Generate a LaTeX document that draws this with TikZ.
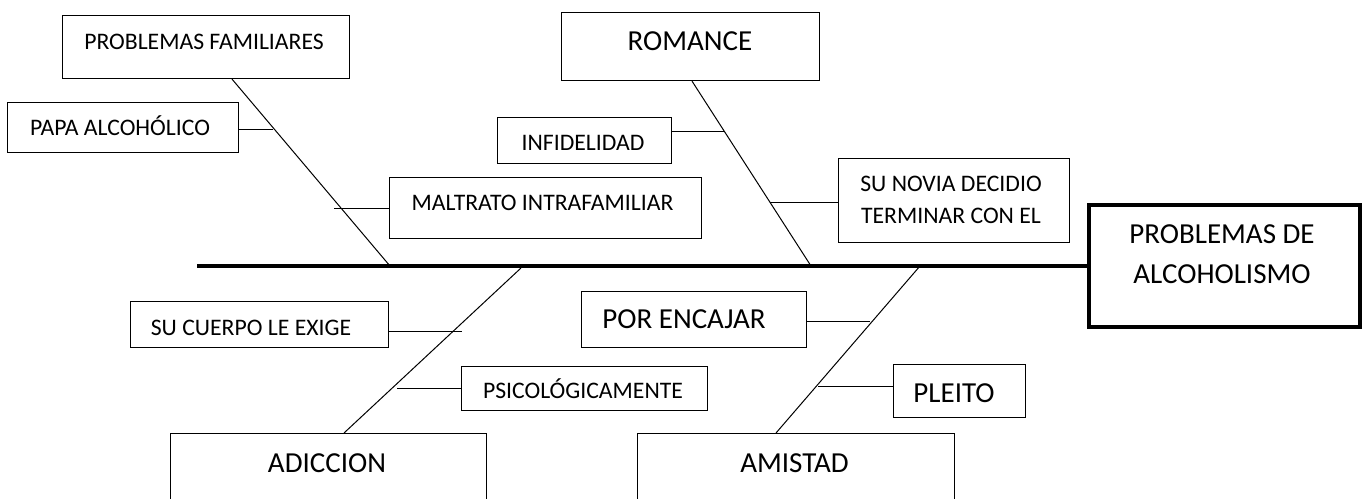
\documentclass[tikz,border=0pt]{standalone}
\usepackage{fontspec}
\setmainfont{Carlito}
\usetikzlibrary{calc}
\begin{document}
\begin{tikzpicture}[x=1pt,y=-1pt,
  box/.style={draw, line width=1.1pt, inner sep=0pt, anchor=north west},
  sm/.style={font=\fontsize{23.7}{31.5}\selectfont, inner sep=0pt},
  lg/.style={font=\fontsize{29}{40}\selectfont, inner sep=0pt},
  bone/.style={line width=1pt},
  spinel/.style={line width=4pt}]
\useasboundingbox (0,0) rectangle (1365,498);
\fill[white] (0,0) rectangle (1365,498);
\clip (0,0) rectangle (1365,498);

% boxes
\node[box, minimum width=287pt, minimum height=63pt] (pf) at (62,15) {};
\node[box, minimum width=231pt, minimum height=50pt] (papa) at (7,102) {};
\node[box, minimum width=312pt, minimum height=61pt] (malt) at (389,177) {};
\node[box, minimum width=258pt, minimum height=68pt] (rom) at (561,12) {};
\node[box, minimum width=174pt, minimum height=46pt] (inf) at (497,117) {};
\node[box, minimum width=231pt, minimum height=84pt] (nov) at (838,158) {};
\node[box, line width=3.5pt, minimum width=271pt, minimum height=122pt] (alc) at (1087,203) {};
\node[box, minimum width=258pt, minimum height=46pt] (cuer) at (130,301) {};
\node[box, minimum width=246pt, minimum height=44pt] (psi) at (461,366) {};
\node[box, minimum width=225pt, minimum height=56pt] (enc) at (581,291) {};
\node[box, minimum width=132pt, minimum height=53pt] (ple) at (893,364) {};
\node[box, minimum width=316pt, minimum height=100pt] (adi) at (170,433) {};
\node[box, minimum width=317pt, minimum height=100pt] (ami) at (637,433) {};

% texts
\node[sm, anchor=base] (pft) at (204,49.2) {PROBLEMAS FAMILIARES};
\node[sm, anchor=base] (papat) at (120,135.5) {PAPA ALCOHÓLICO};
\node[sm, anchor=base] (maltt) at (542.5,210) {MALTRATO INTRAFAMILIAR};
\node[lg, anchor=base] (romt) at (690,50.2) {ROMANCE};
\node[sm, anchor=base] (inft) at (583,150.5) {INFIDELIDAD};
\node[sm, align=center] (novt) at (951,199.8) {SU NOVIA DECIDIO\\TERMINAR CON EL};
\node[lg, align=center] (alct) at (1222,253.7) {PROBLEMAS DE\\ALCOHOLISMO};
\node[sm, anchor=base] (cuert) at (251,335.5) {SU CUERPO LE EXIGE};
\node[sm, anchor=base] (psit) at (583,398.5) {PSICOLÓGICAMENTE};
\node[lg, anchor=base] (enct) at (684,328.9) {POR ENCAJAR};
\node[lg, anchor=base] (plet) at (954,402.2) {PLEITO};
\node[lg, anchor=base] (adit) at (327,472.2) {ADICCION};
\node[lg, anchor=base] (amit) at (794.5,472.2) {AMISTAD};

% spine
\coordinate (sp0) at (197,266);
\draw[spinel] (sp0) -- (sp0 -| alc.west);

% points on spine and boxes
\coordinate (s1) at (390,266);
\coordinate (s2) at (811,266);
\coordinate (s3) at (521,268);
\coordinate (s4) at (920,266);
\coordinate (pfb) at ($(pf.south west)+(170,0)$);
\coordinate (rmb) at ($(rom.south west)+(131,0)$);
\coordinate (adt) at ($(adi.north west)+(174,0)$);
\coordinate (amt) at ($(ami.north west)+(139,0)$);

% bones
\draw[bone] (pfb) -- (s1);
\draw[bone] (rmb) -- (s2);
\draw[bone] (adt) -- (s3);
\draw[bone] (amt) -- (s4);

% stubs
\draw[bone] ([yshift=-2pt]papa.east) -- ++(34,0);
\draw[bone] (malt.west) -- ++(-55,0);
\draw[bone] ([yshift=9pt]inf.east) -- ++(52,0);
\draw[bone] ([yshift=-2pt]nov.west) -- ++(-68,0);
\draw[bone] ([yshift=-7pt]cuer.east) -- ++(73,0);
\draw[bone] (psi.west) -- ++(-64,0);
\draw[bone] ([yshift=-2pt]enc.east) -- ++(63,0);
\draw[bone] ([yshift=4.5pt]ple.west) -- ++(-75,0);
\end{tikzpicture}
\end{document}
